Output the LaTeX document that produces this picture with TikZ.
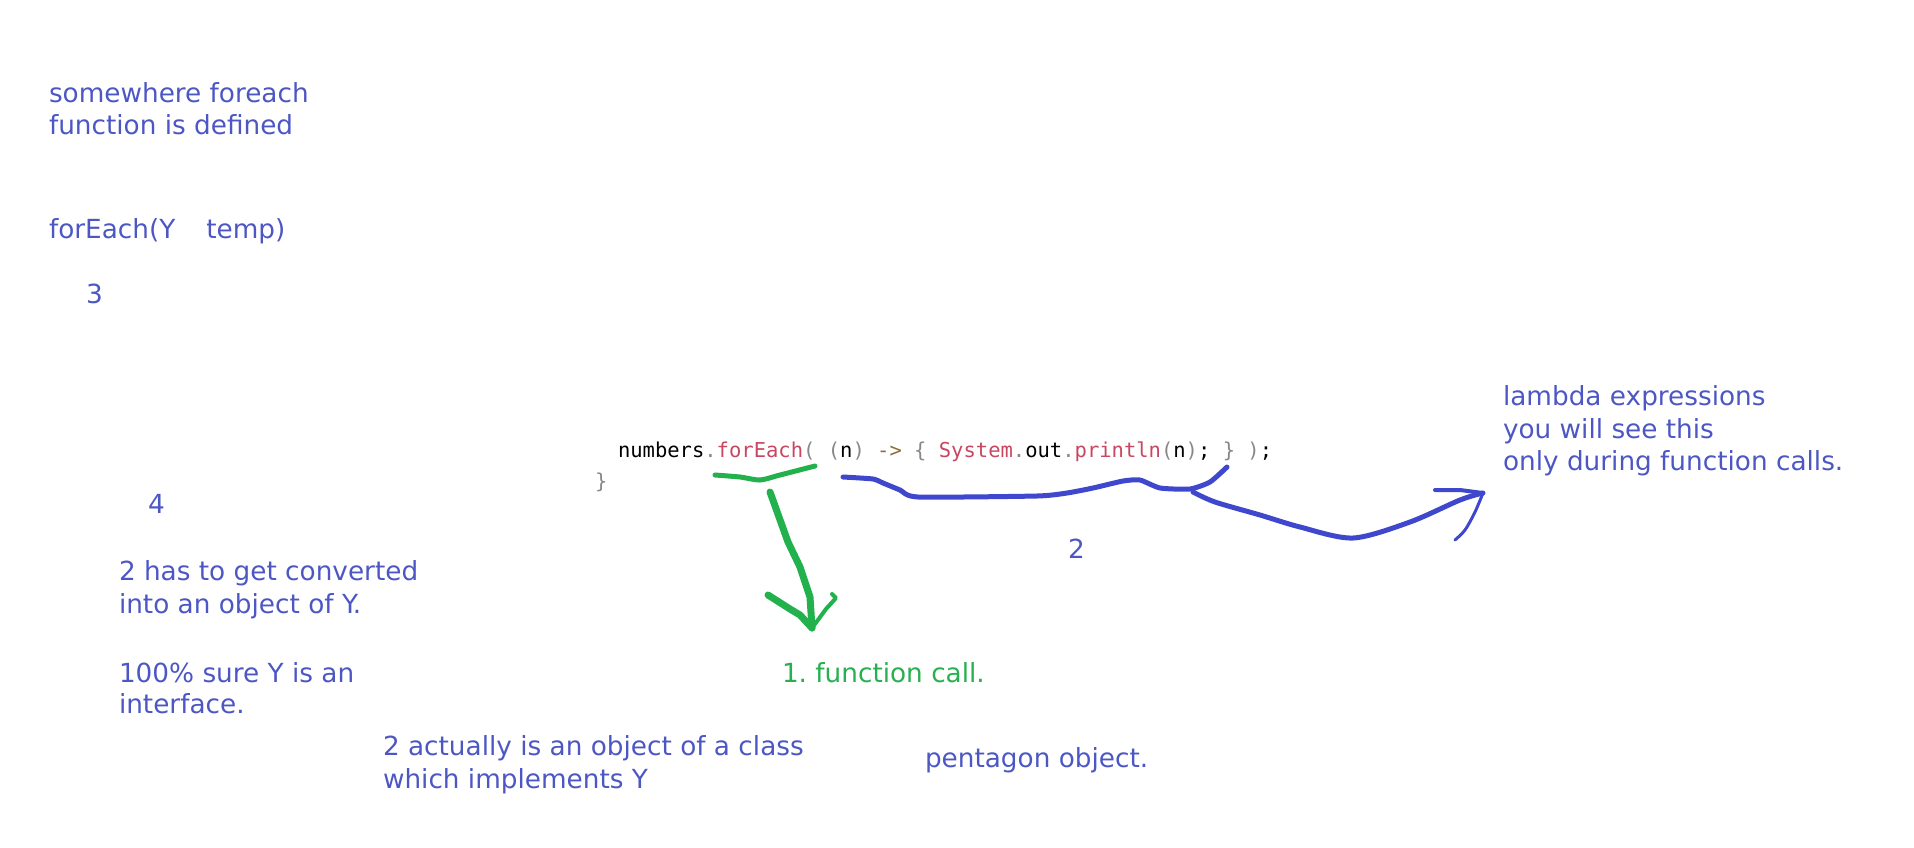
\documentclass[tikz,border=0pt]{standalone}
\usepackage{fontspec}
\setmainfont{DejaVu Sans}
\newfontfamily\codefont{DejaVu Sans Mono}
\definecolor{txtblue}{RGB}{76,87,196}
\definecolor{penblue}{RGB}{63,72,204}
\definecolor{pengreen}{RGB}{34,177,76}
\definecolor{txtgreen}{RGB}{40,176,80}
\definecolor{codered}{RGB}{200,70,95}
\definecolor{punct}{RGB}{136,136,136}
\definecolor{arrowc}{RGB}{140,110,60}
\newcommand{\pc}[1]{\textcolor{punct}{#1}}
\newcommand{\rc}[1]{\textcolor{codered}{#1}}
\frenchspacing
\tikzset{
  txt/.style={anchor=base west, inner sep=0pt, outer sep=0pt, text=txtblue,
    font=\fontsize{26.3}{33}\selectfont},
  gtxt/.style={txt, text=txtgreen},
  code/.style={anchor=base west, inner sep=0pt, outer sep=0pt, text=black,
    font=\codefont\fontsize{20.5}{26}\selectfont},
  bluepen/.style={draw=penblue, line width=5pt, line join=round, line cap=round},
  greenpen/.style={draw=pengreen, line width=6pt, line join=round, line cap=round}
}
\begin{document}
\begin{tikzpicture}[x=1pt,y=-1pt]
\useasboundingbox (0,0) rectangle (1914,847);

% left column texts
\node[txt] (t1a) at (49,102) {somewhere foreach};
\node[txt] (t1b) at (49,134) {function is defined};
\node[txt] (t2) at (49,238) {forEach(Y\hspace{31pt}temp)};
\node[txt] (t3) at (86,303) {3};
\node[txt] (t4) at (148,513) {4};
\node[txt] (t5a) at (119,580) {2 has to get converted};
\node[txt] (t5b) at (119,613) {into an object of Y.};
\node[txt] (t6a) at (119,682) {100\% sure Y is an};
\node[txt] (t6b) at (119,713) {interface.};
\node[txt] (t7a) at (383,755) {2 actually is an object of a class};
\node[txt] (t7b) at (383,788) {which implements Y};
\node[gtxt] (t8) at (782,682) {1. function call.};
\node[txt] (t9) at (925,767) {pentagon object.};
\node[txt] (t10) at (1068,558) {2};
\node[txt] (t11a) at (1503,405) {lambda expressions};
\node[txt] (t11b) at (1503,438) {you will see this};
\node[txt] (t11c) at (1503,470) {only during function calls.};

% code
\node[code] (c1) at (618,457) {numbers\pc{.}\rc{forEach}\pc{(} \pc{(}n\pc{)} \textcolor{arrowc}{->} \pc{\{} \rc{System}\pc{.}out\pc{.}\rc{println}\pc{(}n\pc{)}; \pc{\}} \pc{)};};
\node[code] (c2) at (595,488) {\pc{\}}};

% green underline and arrow
\coordinate (gs) at (770,492);
\coordinate (gt) at (812,628);
\draw[greenpen, line width=5pt] plot[smooth, tension=0.4] coordinates {(715,475) (740,477) (760,480) (780,475) (815,466)};
\draw[greenpen, line width=7pt] (gs) -- (779,517) -- (788,542) -- (800,567) -- (810,597) -- (gt);
\draw[greenpen, line width=7pt] (768,595) -- (790,609) -- (800,615) -- (gt);
\draw[greenpen, line width=4pt] (gt) -- (826,609) -- (836,598) -- (832,594);

% blue brace under lambda
\draw[bluepen] plot[smooth, tension=0.35] coordinates {(843,477) (873,479) (883,483) (900,490) (918,497)
  (1037,496) (1067,493) (1093,488) (1123,481) (1140,480)
  (1160,488) (1190,489) (1210,482) (1227,467)};

% blue curved arrow to lambda text
\coordinate (bs) at (1193,492);
\coordinate (bt) at (1483,493);
\draw[bluepen, line width=5pt] plot[smooth, tension=0.5] coordinates {(bs) (1215,502) (1260,515) (1300,527) (1353,538) (1410,522) (1460,500) (bt)};
\draw[bluepen, line width=4pt] (1435,490) -- (1460,490) -- (bt);
\draw[bluepen, line width=3pt] plot[smooth, tension=0.5] coordinates {(bt) (1475,512) (1465,530) (1455,540)};
\end{tikzpicture}
\end{document}
